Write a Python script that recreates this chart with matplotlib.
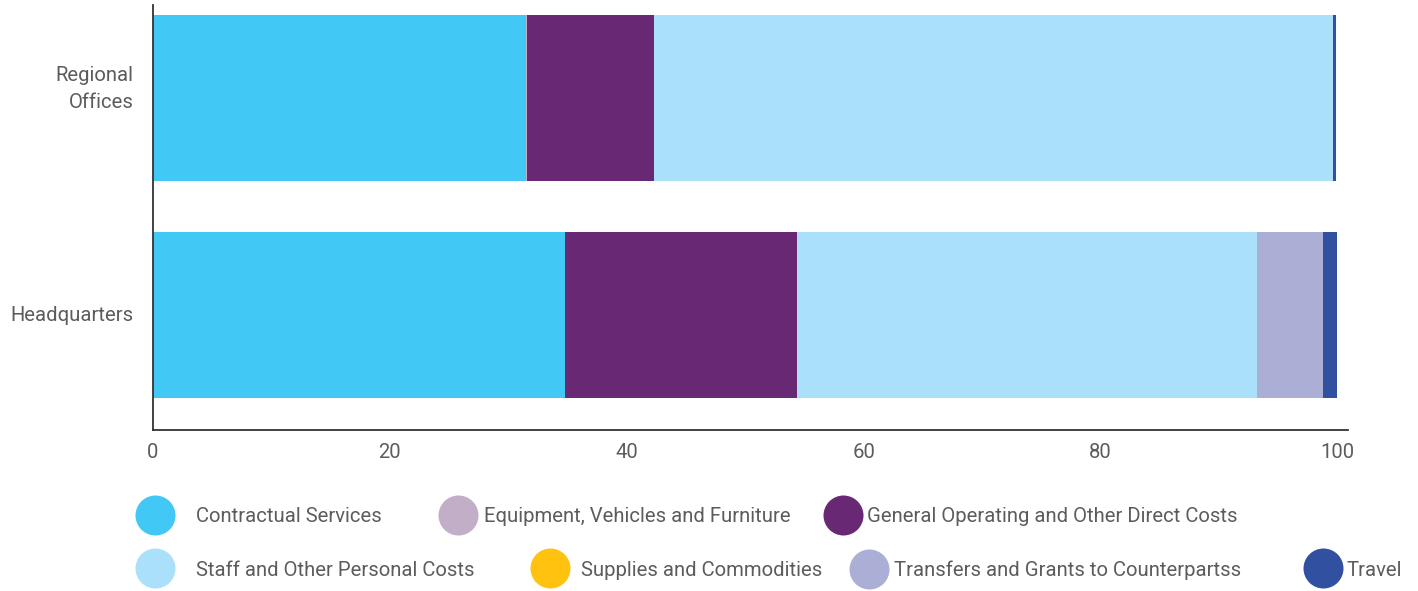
import matplotlib
matplotlib.use("Agg")
import matplotlib.pyplot as plt
import matplotlib.transforms as mtransforms
from matplotlib.lines import Line2D
import numpy as np

# Categories (bottom to top)
categories = ["Headquarters", "Regional\nOffices"]

series_names = [
    "Contractual Services",
    "Equipment, Vehicles and Furniture",
    "General Operating and Other Direct Costs",
    "Staff and Other Personal Costs",
    "Supplies and Commodities",
    "Transfers and Grants to Counterpartss",
    "Travel",
]

# Percent of expenditure, [Headquarters, Regional Offices]
contractual = [34.8, 31.5]
equipment = [0.0, 0.1]
general_operating = [19.6, 10.7]
staff = [38.8, 57.3]
supplies = [0.0, 0.0]
transfers = [5.6, 0.0]
travel = [1.2, 0.3]

series_values = [contractual, equipment, general_operating, staff,
                 supplies, transfers, travel]

series_colors = ["#41C8F4", "#C3AEC8", "#692873", "#AAE0FA",
                 "#FFC20E", "#ABAFD6", "#3250A0"]

xticks = [0, 20, 40, 60, 80, 100]

TEXT_COLOR = "#5c5c5c"
FONT = "Roboto"
WEIGHT = "normal"
FS = 14.6

W, H = 1418, 591
fig = plt.figure(figsize=(W / 100, H / 100), dpi=100)
ax = fig.add_axes([153 / W, 1 - 430 / H, (1348 - 153) / W, (430 - 5) / H])

y_pos = np.arange(len(categories))
left = np.zeros(len(categories))
for name, vals, color in zip(series_names, series_values, series_colors):
    vals = np.array(vals)
    ax.barh(y_pos, vals, left=left, height=0.765, color=color, label=name,
            linewidth=0)
    left += vals

ax.set_xlim(0, 100.9)
ax.set_ylim(-0.53, 1.43)
ax.set_xticks(xticks)
ax.set_xticklabels([str(t) for t in xticks], fontsize=FS, color=TEXT_COLOR,
                   family=FONT, fontweight=WEIGHT)
ax.set_yticks(y_pos)
ax.set_yticklabels(categories, fontsize=FS, color=TEXT_COLOR, family=FONT,
                   fontweight=WEIGHT, linespacing=1.5)
ax.tick_params(axis="both", length=0)
ax.tick_params(axis="x", pad=9)
ax.tick_params(axis="y", pad=14)
# the two-line label sits a little above its bar centre in the original
lab = ax.get_yticklabels()[1]
lab.set_transform(lab.get_transform() +
                  mtransforms.ScaledTranslation(0, 15 / 100, fig.dpi_scale_trans))
hq = ax.get_yticklabels()[0]
hq.set_transform(hq.get_transform() +
                 mtransforms.ScaledTranslation(0, 2 / 100, fig.dpi_scale_trans))
for side in ["top", "right"]:
    ax.spines[side].set_visible(False)
for side in ["left", "bottom"]:
    ax.spines[side].set_color("#333333")
    ax.spines[side].set_linewidth(1.3)

# Legend laid out in flowing rows: (circle centre x, text start x, centre y) in px
legend_layout = [
    (155, 197, 517),
    (458, 485, 517),
    (843, 868, 517),
    (155, 197, 570),
    (550, 582, 570),
    (869, 895, 570),
    (1323, 1348, 570),
]
fs_px = FS * 100 / 72
marker_d = 40
for name, color, (cx, tx, cy) in zip(series_names, series_colors, legend_layout):
    handle = Line2D([], [], marker="o", linestyle="none", markersize=marker_d * 0.72,
                    markerfacecolor=color, markeredgewidth=0)
    leg = fig.legend(
        handles=[handle], labels=[name],
        loc="center left",
        bbox_to_anchor=((cx - marker_d / 2) / W, 1 - cy / H),
        frameon=False, borderpad=0, borderaxespad=0,
        handlelength=marker_d / fs_px,
        handletextpad=(tx - (cx + marker_d / 2)) / fs_px - 0.05,
        prop={"family": FONT, "size": FS, "weight": WEIGHT},
    )
    for t in leg.get_texts():
        t.set_color(TEXT_COLOR)

fig.savefig("out.png", dpi=100)
